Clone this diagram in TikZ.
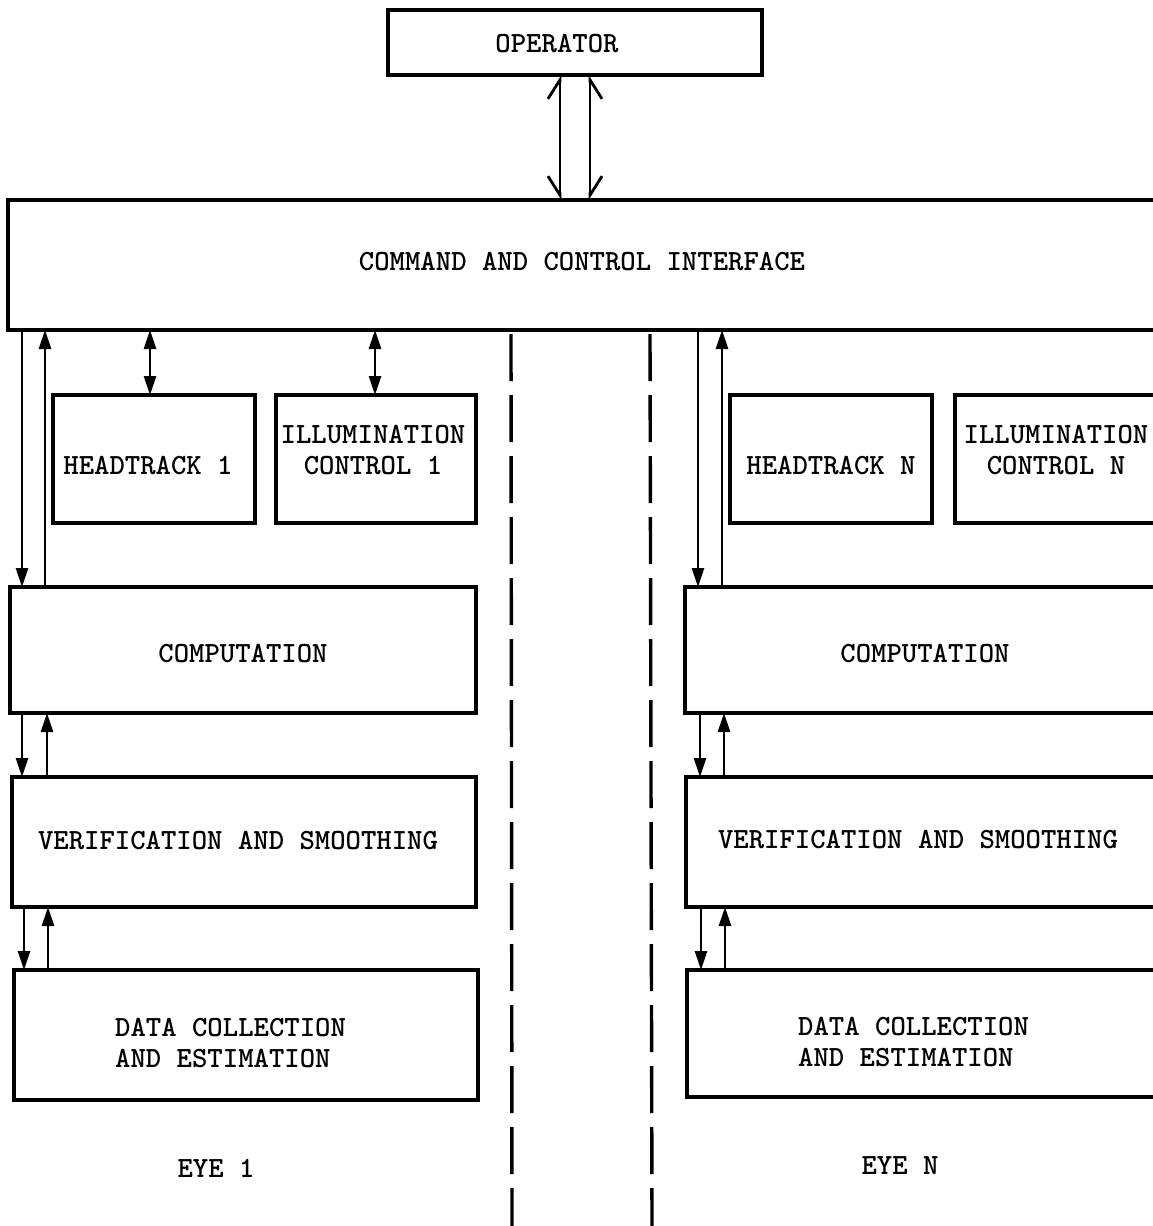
\documentclass[tikz,border=0pt]{standalone}
\usetikzlibrary{arrows.meta}
\begin{document}
\begin{tikzpicture}[x=1pt,y=-1pt,
  blk/.style={draw, line width=3.2pt, rectangle, inner sep=0pt, outer sep=0pt, anchor=north west},
  lbl/.style={font=\ttfamily\bfseries\fontsize{29.3}{31}\selectfont, inner sep=0pt},
  flow/.style={line width=2.8pt, -{Triangle[length=19pt,width=12pt]}},
  both/.style={line width=2.8pt, {Triangle[length=19pt,width=12pt]}-{Triangle[length=19pt,width=12pt]}},
  barbL/.style={line width=2.8pt, {Straight Barb[right,length=19pt,width=24pt]}-{Straight Barb[left,length=19pt,width=24pt]}},
  barbR/.style={line width=2.8pt, {Straight Barb[left,length=19pt,width=24pt]}-{Straight Barb[right,length=19pt,width=24pt]}},
  divider/.style={line width=3.4pt, dash pattern=on 47pt off 14pt}]
\useasboundingbox (0,0) rectangle (1153,1226);

% blocks
\node[blk, minimum width=374pt, minimum height=65pt] (op) at (388,10) {};
\node[blk, minimum width=1150pt, minimum height=130pt] (cci) at (8,200) {};

\node[blk, minimum width=202pt, minimum height=128pt] (ht1) at (53,395) {};
\node[blk, minimum width=200pt, minimum height=128pt] (ic1) at (276,395) {};
\node[blk, minimum width=466pt, minimum height=126pt] (cp1) at (10,587) {};
\node[blk, minimum width=464pt, minimum height=130pt] (vs1) at (12,777) {};
\node[blk, minimum width=464pt, minimum height=130pt] (dc1) at (14,970) {};

\node[blk, minimum width=202pt, minimum height=128pt] (htn) at (730,395) {};
\node[blk, minimum width=205pt, minimum height=128pt] (icn) at (955,395) {};
\node[blk, minimum width=475pt, minimum height=126pt] (cpn) at (685,587) {};
\node[blk, minimum width=474pt, minimum height=130pt] (vsn) at (686,777) {};
\node[blk, minimum width=473pt, minimum height=127pt] (dcn) at (687,970) {};

% labels
\node[lbl] (tOp) at (557,44) {OPERATOR};
\node[lbl] (tCci) at (582,262) {COMMAND AND CONTROL INTERFACE};
\node[lbl] (tHt1) at (148,466) {HEADTRACK 1};
\node[lbl, align=center] (tIc1) at (373,450) {ILLUMINATION\\CONTROL 1};
\node[lbl] (tCp1) at (243,654) {COMPUTATION};
\node[lbl] (tVs1) at (238,841) {VERIFICATION AND SMOOTHING};
\node[lbl, align=left, anchor=west] (tDc1) at (115,1043) {DATA COLLECTION\\AND ESTIMATION};
\node[lbl] (tE1) at (216,1168) {EYE 1};

\node[lbl] (tHtn) at (831,466) {HEADTRACK N};
\node[lbl, align=center] (tIcn) at (1056,450) {ILLUMINATION\\CONTROL N};
\node[lbl] (tCpn) at (925,654) {COMPUTATION};
\node[lbl] (tVsn) at (918,840) {VERIFICATION AND SMOOTHING};
\node[lbl, align=left, anchor=west] (tDcn) at (798,1042) {DATA COLLECTION\\AND ESTIMATION};
\node[lbl] (tEn) at (900,1166) {EYE N};

% column positions of the connectors
\coordinate (xOa) at (560,0);
\coordinate (xOb) at (590,0);
\coordinate (xA1) at (22,0);
\coordinate (xB1) at (45,0);
\coordinate (xC1) at (22,0);
\coordinate (xD1) at (47,0);
\coordinate (xE1) at (24,0);
\coordinate (xF1) at (48,0);
\coordinate (xH1) at (150,0);
\coordinate (xI1) at (375,0);
\coordinate (xAn) at (698,0);
\coordinate (xBn) at (722,0);
\coordinate (xCn) at (700,0);
\coordinate (xDn) at (724,0);
\coordinate (xEn) at (701,0);
\coordinate (xFn) at (725,0);

% operator link
\draw[barbL] (cci.north -| xOa) -- (op.south -| xOa);
\draw[barbR] (cci.north -| xOb) -- (op.south -| xOb);

% eye 1 links
\draw[flow] (cci.south -| xA1) -- (cp1.north -| xA1);
\draw[flow] (cp1.north -| xB1) -- (cci.south -| xB1);
\draw[both] (cci.south -| xH1) -- (ht1.north -| xH1);
\draw[both] (cci.south -| xI1) -- (ic1.north -| xI1);
\draw[flow] (cp1.south -| xC1) -- (vs1.north -| xC1);
\draw[flow] (vs1.north -| xD1) -- (cp1.south -| xD1);
\draw[flow] (vs1.south -| xE1) -- (dc1.north -| xE1);
\draw[flow] (dc1.north -| xF1) -- (vs1.south -| xF1);

% eye N links
\draw[flow] (cci.south -| xAn) -- (cpn.north -| xAn);
\draw[flow] (cpn.north -| xBn) -- (cci.south -| xBn);
\draw[flow] (cpn.south -| xCn) -- (vsn.north -| xCn);
\draw[flow] (vsn.north -| xDn) -- (cpn.south -| xDn);
\draw[flow] (vsn.south -| xEn) -- (dcn.north -| xEn);
\draw[flow] (dcn.north -| xFn) -- (vsn.south -| xFn);

% dividers between eye channels
\draw[divider] (511,334) -- (512,1226);
\draw[divider] (650,334) -- (652,1226);
\end{tikzpicture}
\end{document}
